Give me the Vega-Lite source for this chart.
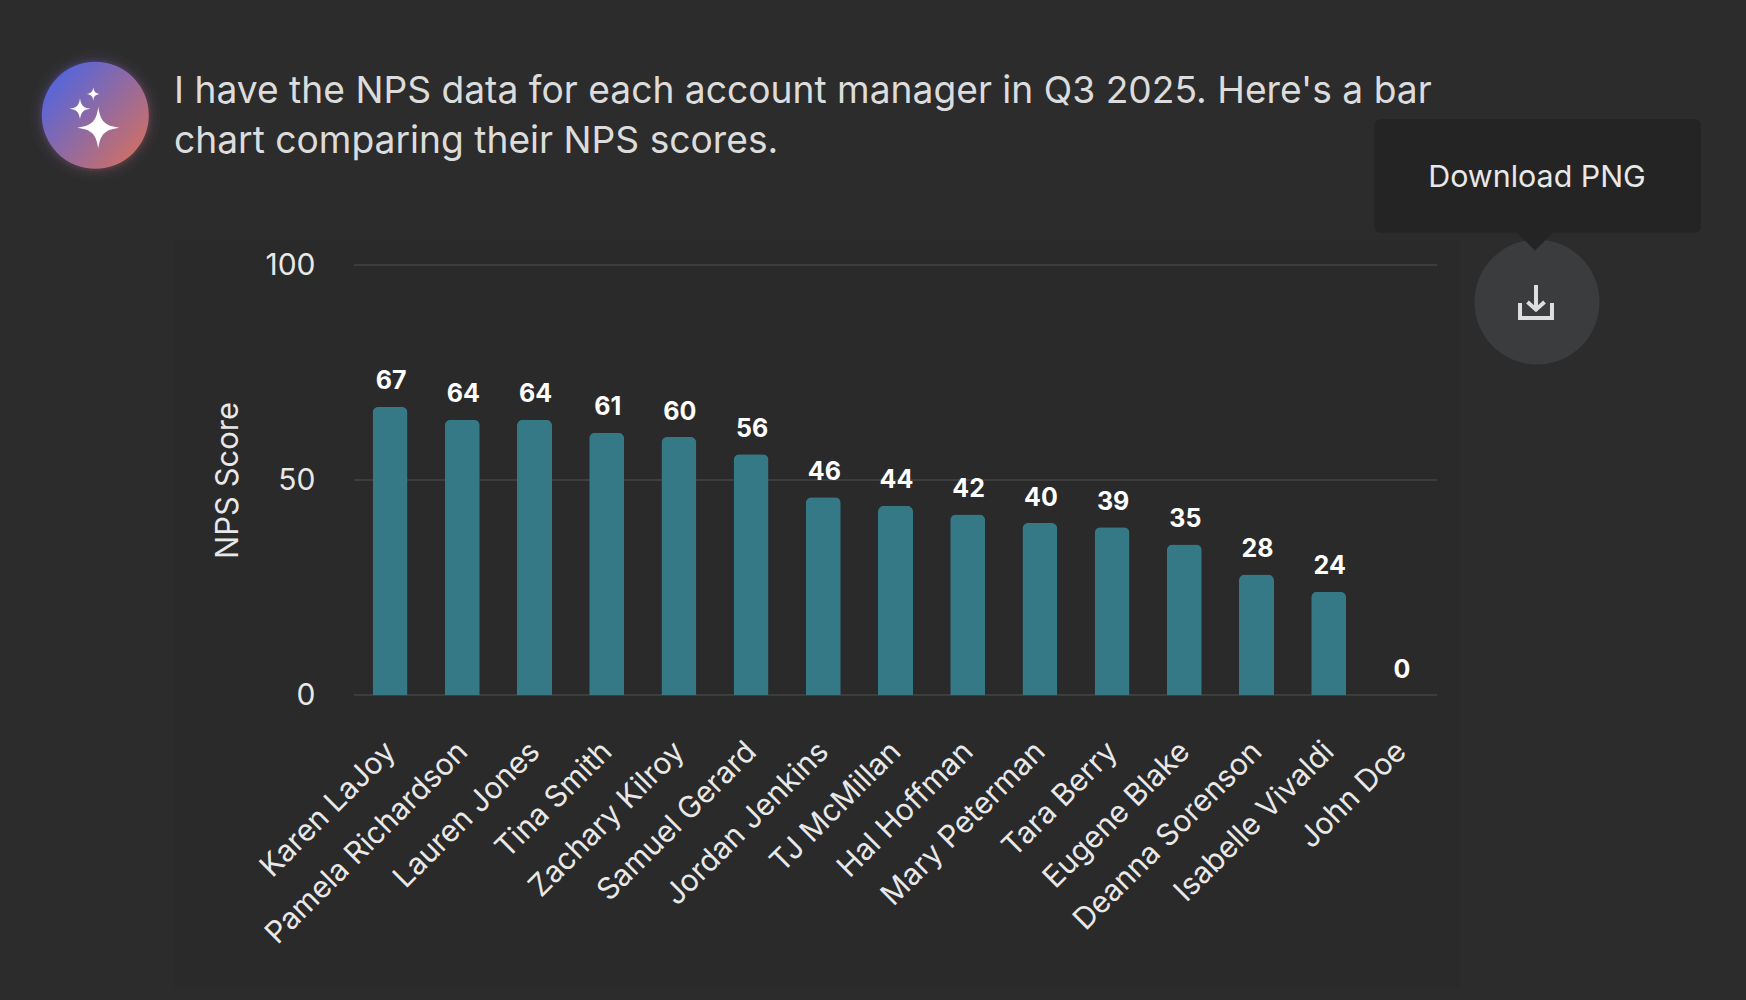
{"$schema":"https://vega.github.io/schema/vega-lite/v6.json",
"width":1083,"height":430,"autosize":{"type":"none"},
"padding":{"left":354,"top":265,"right":309,"bottom":305},
"background":"#2c2c2c",
"view":{"stroke":null},
"config":{"font":"Inter"},
"title":{"text":["I have the NPS data for each account manager in Q3 2025. Here's a bar","chart comparing their NPS scores."],"anchor":"start","frame":"group","align":"left","baseline":"alphabetic","dx":-180,"offset":-139.7,"lineHeight":50,"font":"Inter","fontSize":37.2,"fontWeight":"normal","color":"#dcdcdc"},
"datasets":{"nps":[
{"manager":"Karen LaJoy","score":67},{"manager":"Pamela Richardson","score":64},{"manager":"Lauren Jones","score":64},{"manager":"Tina Smith","score":61},{"manager":"Zachary Kilroy","score":60},{"manager":"Samuel Gerard","score":56},{"manager":"Jordan Jenkins","score":46},{"manager":"TJ McMillan","score":44},{"manager":"Hal Hoffman","score":42},{"manager":"Mary Peterman","score":40},{"manager":"Tara Berry","score":39},{"manager":"Eugene Blake","score":35},{"manager":"Deanna Sorenson","score":28},{"manager":"Isabelle Vivaldi","score":24},{"manager":"John Doe","score":0}],
"grid":[{"tick":0},{"tick":50},{"tick":100}],"one":[{}]},
"resolve":{"scale":{"x":"independent","y":"independent"},"axis":{"x":"independent","y":"independent"}},
"layer":[
{"data":{"name":"one"},"mark":{"type":"rect","fill":"#2a2a2a"},"encoding":{
"x":{"datum":174,"type":"quantitative","scale":{"domain":[354,1437]},"axis":null},"x2":{"datum":1460},
"y":{"datum":240,"type":"quantitative","scale":{"domain":[695,265]},"axis":null},"y2":{"datum":988}}},
{"data":{"name":"grid"},"mark":{"type":"rule","stroke":"#3d3d3d","strokeWidth":2},"encoding":{"y":{"field":"tick","type":"quantitative","scale":{"domain":[0,100]},"axis":null}}},
{"data":{"name":"nps"},"mark":{"type":"bar","fill":"#367986","size":35,"cornerRadiusTopLeft":6,"cornerRadiusTopRight":6},"encoding":{
"x":{"field":"manager","type":"nominal","sort":null,"scale":{"paddingInner":0.5,"paddingOuter":0.25},"axis":{"orient":"bottom","zindex":1,"title":null,"grid":false,"domain":false,"ticks":false,"labelAngle":-45,"labelAlign":"right","labelBaseline":"top","labelFontSize":30,"labelColor":"#e8e8e8","labelPadding":41,"labelOffset":-10,"labelLimit":400,"labelFont":"Inter"}},
"y":{"field":"score","type":"quantitative","scale":{"domain":[0,100]},"axis":{"orient":"left","zindex":1,"title":"NPS Score","values":[0,50,100],"grid":false,"domain":false,"ticks":false,"labelFontSize":30,"labelColor":"#e8e8e8","labelPadding":39,"labelOffset":0,"labelFont":"Inter","titleFontSize":31,"titleFontWeight":"normal","titleColor":"#e8e8e8","titleFont":"Inter","titlePadding":20}}}},
{"data":{"name":"nps"},"mark":{"type":"text","align":"center","baseline":"alphabetic","dx":1,"dy":-17.5,"font":"Inter","fontSize":25,"fontWeight":"bold","fill":"#ffffff"},"encoding":{
"x":{"field":"manager","type":"nominal","sort":null,"scale":{"paddingInner":0.5,"paddingOuter":0.25},"axis":null},
"y":{"field":"score","type":"quantitative","scale":{"domain":[0,100]},"axis":null},
"text":{"field":"score","type":"quantitative"}}},
{"data":{"name":"one"},"layer":[
{"mark":{"type":"point","filled":true,"opacity":0.025,"size":17000,"shape":"circle","fill":{"gradient":"linear","x1":0,"y1":0,"x2":1,"y2":1,"stops":[{"offset":0,"color":"#5a5cf0"},{"offset":1,"color":"#e0706a"}]}},"encoding":{"x":{"datum":95.3,"type":"quantitative","scale":{"domain":[354,1437]},"axis":null},"y":{"datum":115.3,"type":"quantitative","scale":{"domain":[695,265]},"axis":null}}},
{"mark":{"type":"point","filled":true,"opacity":0.04,"size":15000,"shape":"circle","fill":{"gradient":"linear","x1":0,"y1":0,"x2":1,"y2":1,"stops":[{"offset":0,"color":"#5a5cf0"},{"offset":1,"color":"#e0706a"}]}},"encoding":{"x":{"datum":95.3,"type":"quantitative","scale":{"domain":[354,1437]},"axis":null},"y":{"datum":115.3,"type":"quantitative","scale":{"domain":[695,265]},"axis":null}}},
{"mark":{"type":"point","filled":true,"opacity":0.07,"size":13500,"shape":"circle","fill":{"gradient":"linear","x1":0,"y1":0,"x2":1,"y2":1,"stops":[{"offset":0,"color":"#5a5cf0"},{"offset":1,"color":"#e0706a"}]}},"encoding":{"x":{"datum":95.3,"type":"quantitative","scale":{"domain":[354,1437]},"axis":null},"y":{"datum":115.3,"type":"quantitative","scale":{"domain":[695,265]},"axis":null}}},
{"mark":{"type":"point","filled":true,"opacity":0.1,"size":12400,"shape":"circle","fill":{"gradient":"linear","x1":0,"y1":0,"x2":1,"y2":1,"stops":[{"offset":0,"color":"#5a5cf0"},{"offset":1,"color":"#e0706a"}]}},"encoding":{"x":{"datum":95.3,"type":"quantitative","scale":{"domain":[354,1437]},"axis":null},"y":{"datum":115.3,"type":"quantitative","scale":{"domain":[695,265]},"axis":null}}},
{"mark":{"type":"point","filled":true,"opacity":1,"size":11449,"shape":"circle","fill":{"gradient":"linear","x1":0.1,"y1":0.15,"x2":0.9,"y2":0.85,"stops":[{"offset":0,"color":"#5465dc"},{"offset":1,"color":"#cc6f68"}]}},"encoding":{"x":{"datum":95.3,"type":"quantitative","scale":{"domain":[354,1437]},"axis":null},"y":{"datum":115.3,"type":"quantitative","scale":{"domain":[695,265]},"axis":null}}},
{"mark":{"type":"point","filled":true,"opacity":1,"fill":"#ffffff","size":1764,"shape":"M0,-1C0.1,-0.3 0.3,-0.1 1,0C0.3,0.1 0.1,0.3 0,1C-0.1,0.3 -0.3,0.1 -1,0C-0.3,-0.1 -0.1,-0.3 0,-1Z"},"encoding":{"x":{"datum":98.3,"type":"quantitative","scale":{"domain":[354,1437]},"axis":null},"y":{"datum":127.7,"type":"quantitative","scale":{"domain":[695,265]},"axis":null}}},
{"mark":{"type":"point","filled":true,"opacity":1,"fill":"#ffffff","size":441,"shape":"M0,-1C0.1,-0.3 0.3,-0.1 1,0C0.3,0.1 0.1,0.3 0,1C-0.1,0.3 -0.3,0.1 -1,0C-0.3,-0.1 -0.1,-0.3 0,-1Z"},"encoding":{"x":{"datum":80,"type":"quantitative","scale":{"domain":[354,1437]},"axis":null},"y":{"datum":108.7,"type":"quantitative","scale":{"domain":[695,265]},"axis":null}}},
{"mark":{"type":"point","filled":true,"opacity":1,"fill":"#ffffff","size":178,"shape":"M0,-1C0.1,-0.3 0.3,-0.1 1,0C0.3,0.1 0.1,0.3 0,1C-0.1,0.3 -0.3,0.1 -1,0C-0.3,-0.1 -0.1,-0.3 0,-1Z"},"encoding":{"x":{"datum":93.3,"type":"quantitative","scale":{"domain":[354,1437]},"axis":null},"y":{"datum":94,"type":"quantitative","scale":{"domain":[695,265]},"axis":null}}},
{"mark":{"type":"point","filled":true,"opacity":1,"fill":"#3b3c3e","size":15625,"shape":"circle"},"encoding":{"x":{"datum":1537,"type":"quantitative","scale":{"domain":[354,1437]},"axis":null},"y":{"datum":302,"type":"quantitative","scale":{"domain":[695,265]},"axis":null}}},
{"mark":{"type":"point","filled":false,"opacity":1,"stroke":"#dedede","strokeWidth":4,"size":1156,"shape":"M-0.94,0.06L-0.94,0.94L0.94,0.94L0.94,0.06M0,-1L0,0.45M-0.5,0L0,0.45L0.5,0"},"encoding":{"x":{"datum":1536,"type":"quantitative","scale":{"domain":[354,1437]},"axis":null},"y":{"datum":302,"type":"quantitative","scale":{"domain":[695,265]},"axis":null}}},
{"mark":{"type":"rect","fill":"#242424","cornerRadius":7},"encoding":{"x":{"datum":1374.3,"type":"quantitative","scale":{"domain":[354,1437]},"axis":null},"x2":{"datum":1701},"y":{"datum":119,"type":"quantitative","scale":{"domain":[695,265]},"axis":null},"y2":{"datum":232.7}}},
{"mark":{"type":"point","filled":true,"opacity":1,"fill":"#242424","size":1296,"shape":"M-1,0L1,0L0,1Z"},"encoding":{"x":{"datum":1535,"type":"quantitative","scale":{"domain":[354,1437]},"axis":null},"y":{"datum":232.5,"type":"quantitative","scale":{"domain":[695,265]},"axis":null}}},
{"mark":{"type":"text","text":"Download PNG","align":"center","baseline":"alphabetic","font":"Inter","fontSize":30.4,"fill":"#e8e8e8"},"encoding":{"x":{"datum":1537,"type":"quantitative","scale":{"domain":[354,1437]},"axis":null},"y":{"datum":187,"type":"quantitative","scale":{"domain":[695,265]},"axis":null}}}
]}
]}
